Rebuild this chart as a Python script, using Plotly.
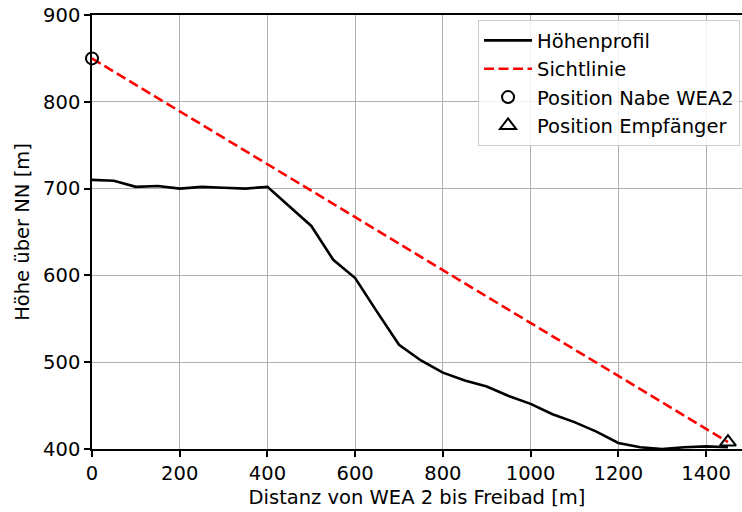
import plotly.graph_objects as go

dist = [0, 50, 100, 150, 200, 250, 300, 350, 400, 450, 500, 550, 600, 650, 700,
        750, 800, 850, 900, 950, 1000, 1050, 1100, 1150, 1200, 1250, 1300, 1350, 1400, 1450]
hoehe = [710, 709, 702, 703, 700, 702, 701, 700, 702, 680, 657, 618, 597, 558, 520,
         502, 488, 479, 472, 461, 452, 440, 431, 420, 407, 402, 400, 402, 403, 402]
nabe_x, nabe_y = 0, 850
empf_x, empf_y = 1450, 408
x_ticks = [0, 200, 400, 600, 800, 1000, 1200, 1400]
y_ticks = [400, 500, 600, 700, 800, 900]

font = dict(family="DejaVu Sans", size=19.5, color="black")

fig = go.Figure()
fig.add_trace(go.Scatter(x=dist, y=hoehe, mode="lines", name="Höhenprofil",
                         line=dict(color="black", width=2.6)))
fig.add_trace(go.Scatter(x=[nabe_x, empf_x], y=[nabe_y, empf_y], mode="lines", name="Sichtlinie",
                         line=dict(color="red", width=2.6, dash="10px,4.5px")))
fig.add_trace(go.Scatter(x=[nabe_x], y=[nabe_y], mode="markers", name="Position Nabe WEA2",
                         marker=dict(symbol="circle-open", size=12, color="black", line=dict(width=2)),
                         cliponaxis=False))
fig.add_trace(go.Scatter(x=[empf_x], y=[empf_y], mode="markers", name="Position Empfänger",
                         marker=dict(symbol="triangle-up-open", size=14, color="black", line=dict(width=2)),
                         cliponaxis=False))

fig.update_layout(
    width=742, height=512,
    margin=dict(l=92, r=0, t=15, b=63),
    paper_bgcolor="white", plot_bgcolor="white",
    font=font,
    showlegend=True,
    legend=dict(x=0.997, y=0.988, xanchor="right", yanchor="top", itemwidth=48,
                bgcolor="rgba(255,255,255,0.8)", bordercolor="#cccccc", borderwidth=1,
                font=font),
    xaxis=dict(range=[0, 1482], tickvals=x_ticks, showgrid=True, gridcolor="#b0b0b0", gridwidth=1,
               showline=True, linecolor="black", linewidth=1.5, mirror=True,
               ticks="outside", ticklen=6, tickwidth=1.5, tickcolor="black",
               zeroline=False,
               title=dict(text="Distanz von WEA 2 bis Freibad [m]", font=font, standoff=6)),
    yaxis=dict(range=[400, 900], tickvals=y_ticks, showgrid=True, gridcolor="#b0b0b0", gridwidth=1,
               showline=True, linecolor="black", linewidth=1.5, mirror=False,
               ticks="outside", ticklen=6, tickwidth=1.5, tickcolor="black",
               zeroline=False,
               title=dict(text="Höhe über NN [m]", font=font, standoff=8)),
)

fig.write_html("out.html")
